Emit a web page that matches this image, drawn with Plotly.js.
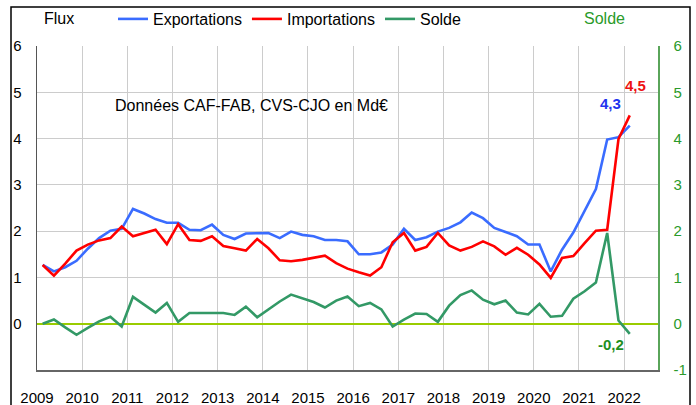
<!DOCTYPE html>
<html><head><meta charset="utf-8">
<script src="https://cdn.plot.ly/plotly-3.0.1.min.js"></script>
<style>html,body{margin:0;padding:0;background:#fff}#chart{width:696px;height:405px}</style>
</head><body><div id="chart"></div>
<script>
// ---- Data (Md€, quarterly, 2009 T1 .. 2022 T1) ----
const years = ['2009','2010','2011','2012','2013','2014','2015','2016','2017','2018','2019','2020','2021','2022'];
const exportations = [1.27,1.13,1.22,1.36,1.62,1.85,2.01,2.05,2.48,2.38,2.26,2.18,2.18,2.03,2.02,2.14,1.92,1.83,1.95,1.96,
  1.96,1.85,1.99,1.92,1.89,1.81,1.81,1.78,1.50,1.50,1.54,1.71,2.05,1.81,1.87,1.99,2.07,2.19,2.40,
  2.28,2.07,1.98,1.89,1.71,1.71,1.13,1.60,1.97,2.44,2.91,3.98,4.03,4.28];
const importations = [1.27,1.04,1.30,1.58,1.71,1.80,1.85,2.10,1.89,1.96,2.03,1.72,2.15,1.81,1.79,1.89,1.68,1.63,1.58,1.83,
  1.63,1.37,1.35,1.38,1.42,1.47,1.31,1.19,1.11,1.04,1.22,1.76,1.96,1.58,1.66,1.96,1.69,1.58,1.66,
  1.78,1.67,1.49,1.64,1.49,1.28,0.99,1.42,1.46,1.74,2.01,2.03,3.99,4.50];
const solde = [0.00,0.09,-0.08,-0.24,-0.09,0.05,0.15,-0.06,0.58,0.41,0.24,0.45,0.04,0.23,0.23,0.24,0.23,0.19,0.37,0.14,
  0.31,0.48,0.63,0.55,0.47,0.35,0.50,0.59,0.38,0.45,0.31,-0.06,0.09,0.22,0.21,0.04,0.39,0.62,0.72,
  0.52,0.42,0.50,0.24,0.20,0.43,0.15,0.17,0.54,0.70,0.89,1.96,0.07,-0.22];
const seriesNames = ['Exportations','Importations','Solde'];
const yTicksLeft = [0,1,2,3,4,5,6];
const yTicksRight = [-1,0,1,2,3,4,5,6];
const yTickTextRight = ['-1','0','1','2','3','4','5','6'];
const lastLabels = ['4,3','4,5','-0,2'];
const noteText = 'Données CAF-FAB, CVS-CJO en Md€';

// ---- Derived helpers ----
const idx = exportations.map((_, i) => i);
const quarters = idx.map(i => years[Math.floor(i / 4)] + ' T' + (i % 4 + 1));
const yearTickPos = years.map((_, k) => k * 4 - 0.5);
const last = idx.length - 1;

const W = 696, H = 405;
const M = {l: 37, r: 38, t: 46, b: 35};
const PW = W - M.l - M.r, PH = H - M.t - M.b;
const px2x = px => (px - M.l) / PW;
const px2y = py => (H - M.b - py) / PH;

const FONT = 'Liberation Sans, Arial, sans-serif';
const C_EXP = '#3a6cff', C_IMP = '#ff0000', C_SOL = '#339966';
const C_GREEN_TXT = '#2a9a2a';

const traces = [
  {x: idx, y: exportations, customdata: quarters, name: seriesNames[0], type: 'scatter', mode: 'lines',
   line: {color: C_EXP, width: 2.6}, hovertemplate: '%{customdata}: %{y}<extra></extra>'},
  {x: idx, y: importations, customdata: quarters, name: seriesNames[1], type: 'scatter', mode: 'lines',
   line: {color: C_IMP, width: 2.6}, hovertemplate: '%{customdata}: %{y}<extra></extra>'},
  {x: idx, y: solde, customdata: quarters, name: seriesNames[2], type: 'scatter', mode: 'lines', yaxis: 'y2',
   line: {color: C_SOL, width: 2.6}, hovertemplate: '%{customdata}: %{y}<extra></extra>'}
];

const layout = {
  width: W, height: H,
  margin: M,
  paper_bgcolor: '#ffffff', plot_bgcolor: '#ffffff',
  font: {family: FONT, size: 15, color: '#000'},
  showlegend: true,
  legend: {orientation: 'h', xref: 'container', yref: 'container', x: 113 / W, y: 1 - 2 / H,
           xanchor: 'left', yanchor: 'top', font: {size: 16, family: FONT}, itemgap: 10,
           bgcolor: 'rgba(0,0,0,0)', traceorder: 'normal'},
  xaxis: {
    range: [-0.5, years.length * 4 - 1.5],
    tickmode: 'array', tickvals: yearTickPos, ticktext: years,
    ticks: 'outside', ticklen: 13, tickcolor: 'rgba(0,0,0,0)',
    showgrid: true, gridcolor: '#cccccc', gridwidth: 1,
    showline: true, linecolor: '#666666', linewidth: 1.5,
    zeroline: false, tickfont: {size: 15, family: FONT, color: '#000'}, fixedrange: true
  },
  yaxis: {
    range: [-1, 6], tickmode: 'array', tickvals: yTicksLeft,
    ticks: 'outside', ticklen: 11, tickcolor: 'rgba(0,0,0,0)',
    showgrid: true, gridcolor: '#cccccc', gridwidth: 1,
    zeroline: true, zerolinecolor: '#99cc00', zerolinewidth: 2,
    showline: true, linecolor: '#555555', linewidth: 1.5,
    tickfont: {size: 15, family: FONT, color: '#000'}, fixedrange: true
  },
  yaxis2: {
    range: [-1, 6], overlaying: 'y', side: 'right', tickmode: 'array',
    tickvals: yTicksRight, ticktext: yTickTextRight,
    ticks: 'outside', ticklen: 11, tickcolor: 'rgba(0,0,0,0)',
    showgrid: false, zeroline: false,
    showline: true, linecolor: '#5aa55a', linewidth: 1.5,
    tickfont: {size: 15, family: FONT, color: C_GREEN_TXT}, fixedrange: true
  },
  shapes: [
    {type: 'rect', xref: 'paper', yref: 'paper', x0: px2x(11), x1: px2x(690), y0: px2y(420), y1: px2y(7),
     line: {color: '#000', width: 1.5}, fillcolor: 'rgba(0,0,0,0)', layer: 'above'}
  ],
  annotations: [
    {xref: 'paper', yref: 'paper', x: px2x(42), y: px2y(18), xanchor: 'left', yanchor: 'middle',
     text: 'Flux', showarrow: false, font: {size: 16, family: FONT, color: '#000'}},
    {xref: 'paper', yref: 'paper', x: px2x(604), y: px2y(18), xanchor: 'center', yanchor: 'middle',
     text: 'Solde', showarrow: false, font: {size: 16, family: FONT, color: C_GREEN_TXT}},
    {xref: 'paper', yref: 'paper', x: px2x(113), y: px2y(105), xanchor: 'left', yanchor: 'middle',
     text: noteText, showarrow: false, font: {size: 16, family: FONT, color: '#000'}},
    {xref: 'x', yref: 'y', x: idx[last], y: exportations[last], text: '<b>' + lastLabels[0] + '</b>',
     showarrow: false, xshift: -19, yshift: 22, font: {size: 15, family: FONT, color: '#2233ee'}},
    {xref: 'x', yref: 'y', x: idx[last], y: importations[last], text: '<b>' + lastLabels[1] + '</b>',
     showarrow: false, xshift: 6, yshift: 30, font: {size: 15, family: FONT, color: '#ee1111'}},
    {xref: 'x', yref: 'y2', x: idx[last], y: solde[last], text: '<b>' + lastLabels[2] + '</b>',
     showarrow: false, xshift: -19, yshift: -11, font: {size: 15, family: FONT, color: '#1f8f1f'}}
  ]
};

Plotly.newPlot('chart', traces, layout, {displayModeBar: false, staticPlot: true});
</script>
</body></html>
